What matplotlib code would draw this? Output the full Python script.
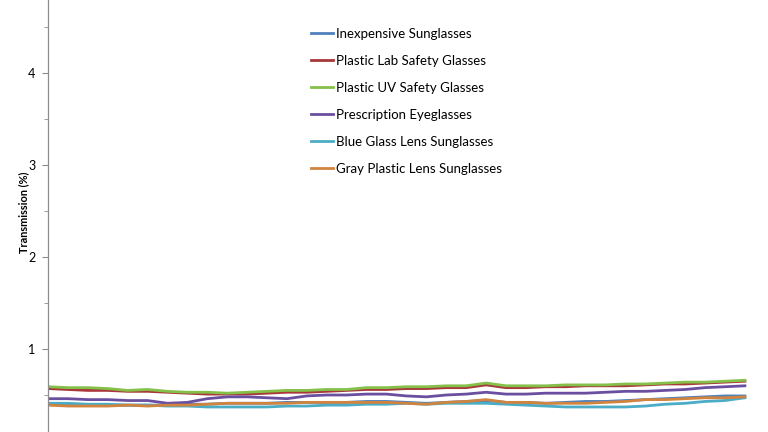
import matplotlib
matplotlib.use('Agg')
import matplotlib.pyplot as plt
from matplotlib.ticker import MultipleLocator

plt.rcParams['font.family'] = ['Lato', 'DejaVu Sans']

# x positions (sample index as wavelength, nm)
wavelength = list(range(300, 660, 10))

inexpensive = [0.40, 0.39, 0.39, 0.39, 0.39, 0.39, 0.39, 0.40, 0.40, 0.41, 0.41, 0.41,
               0.42, 0.42, 0.42, 0.42, 0.43, 0.43, 0.42, 0.41, 0.42, 0.43, 0.44, 0.42,
               0.42, 0.41, 0.42, 0.43, 0.43, 0.44, 0.45, 0.46, 0.47, 0.48, 0.49, 0.49]
lab_safety = [0.57, 0.56, 0.55, 0.55, 0.54, 0.54, 0.53, 0.52, 0.51, 0.51, 0.51, 0.52,
              0.53, 0.53, 0.54, 0.55, 0.56, 0.56, 0.57, 0.57, 0.58, 0.58, 0.61, 0.58,
              0.58, 0.59, 0.59, 0.60, 0.60, 0.60, 0.61, 0.62, 0.62, 0.63, 0.64, 0.65]
uv_safety = [0.59, 0.58, 0.58, 0.57, 0.55, 0.56, 0.54, 0.53, 0.53, 0.52, 0.53, 0.54,
             0.55, 0.55, 0.56, 0.56, 0.58, 0.58, 0.59, 0.59, 0.60, 0.60, 0.63, 0.60,
             0.60, 0.60, 0.61, 0.61, 0.61, 0.62, 0.62, 0.63, 0.64, 0.64, 0.65, 0.66]
prescription = [0.46, 0.46, 0.45, 0.45, 0.44, 0.44, 0.41, 0.42, 0.46, 0.48, 0.48, 0.47,
                0.46, 0.49, 0.50, 0.50, 0.51, 0.51, 0.49, 0.48, 0.50, 0.51, 0.53, 0.51,
                0.51, 0.52, 0.52, 0.52, 0.53, 0.54, 0.54, 0.55, 0.56, 0.58, 0.59, 0.60]
blue_glass = [0.41, 0.41, 0.40, 0.40, 0.39, 0.39, 0.38, 0.38, 0.37, 0.37, 0.37, 0.37,
              0.38, 0.38, 0.39, 0.39, 0.40, 0.40, 0.41, 0.40, 0.41, 0.41, 0.41, 0.40,
              0.39, 0.38, 0.37, 0.37, 0.37, 0.37, 0.38, 0.40, 0.41, 0.43, 0.44, 0.47]
gray_plastic = [0.39, 0.38, 0.38, 0.38, 0.39, 0.38, 0.39, 0.39, 0.40, 0.41, 0.41, 0.41,
                0.41, 0.42, 0.42, 0.42, 0.42, 0.42, 0.41, 0.40, 0.42, 0.43, 0.45, 0.42,
                0.42, 0.41, 0.41, 0.41, 0.42, 0.43, 0.45, 0.45, 0.46, 0.47, 0.47, 0.48]

series = [
    ('Inexpensive Sunglasses', inexpensive, '#4F81BD'),
    ('Plastic Lab Safety Glasses', lab_safety, '#A8383A'),
    ('Plastic UV Safety Glasses', uv_safety, '#84C04A'),
    ('Prescription Eyeglasses', prescription, '#6A4FA0'),
    ('Blue Glass Lens Sunglasses', blue_glass, '#4BACC6'),
    ('Gray Plastic Lens Sunglasses', gray_plastic, '#D0843E'),
]

fig = plt.figure(figsize=(7.68, 4.32), dpi=100)
ax = fig.add_axes([48 / 768, 0, 1 - 48 / 768, 1])

for name, vals, color in series:
    ax.plot(wavelength, vals, color=color, lw=2.0, label=name)

ax.set_xlim(300, 661.6)
ax.set_ylim(0.098, 4.793)

for s in ['top', 'right', 'bottom']:
    ax.spines[s].set_visible(False)
ax.spines['left'].set_color('#8c8c8c')
ax.spines['left'].set_linewidth(0.9)

ax.set_xticks([])
ax.yaxis.set_major_locator(MultipleLocator(1))
ax.yaxis.set_minor_locator(MultipleLocator(0.5))
ax.tick_params(axis='y', which='major', length=4, color='#8c8c8c', labelsize=9, pad=5)
ax.tick_params(axis='y', which='minor', length=3, color='#8c8c8c')

ax.set_ylabel('Transmission (%)', fontsize=7.9, fontweight='bold')
ax.yaxis.set_label_coords(-0.0255, 0.509)

leg = ax.legend(loc='upper left', bbox_to_anchor=(0.365, 0.935), frameon=False,
                fontsize=9.5, labelspacing=1.13, handlelength=1.67, handletextpad=0.23,
                borderpad=0, borderaxespad=0)

fig.savefig('out.png', dpi=100)
